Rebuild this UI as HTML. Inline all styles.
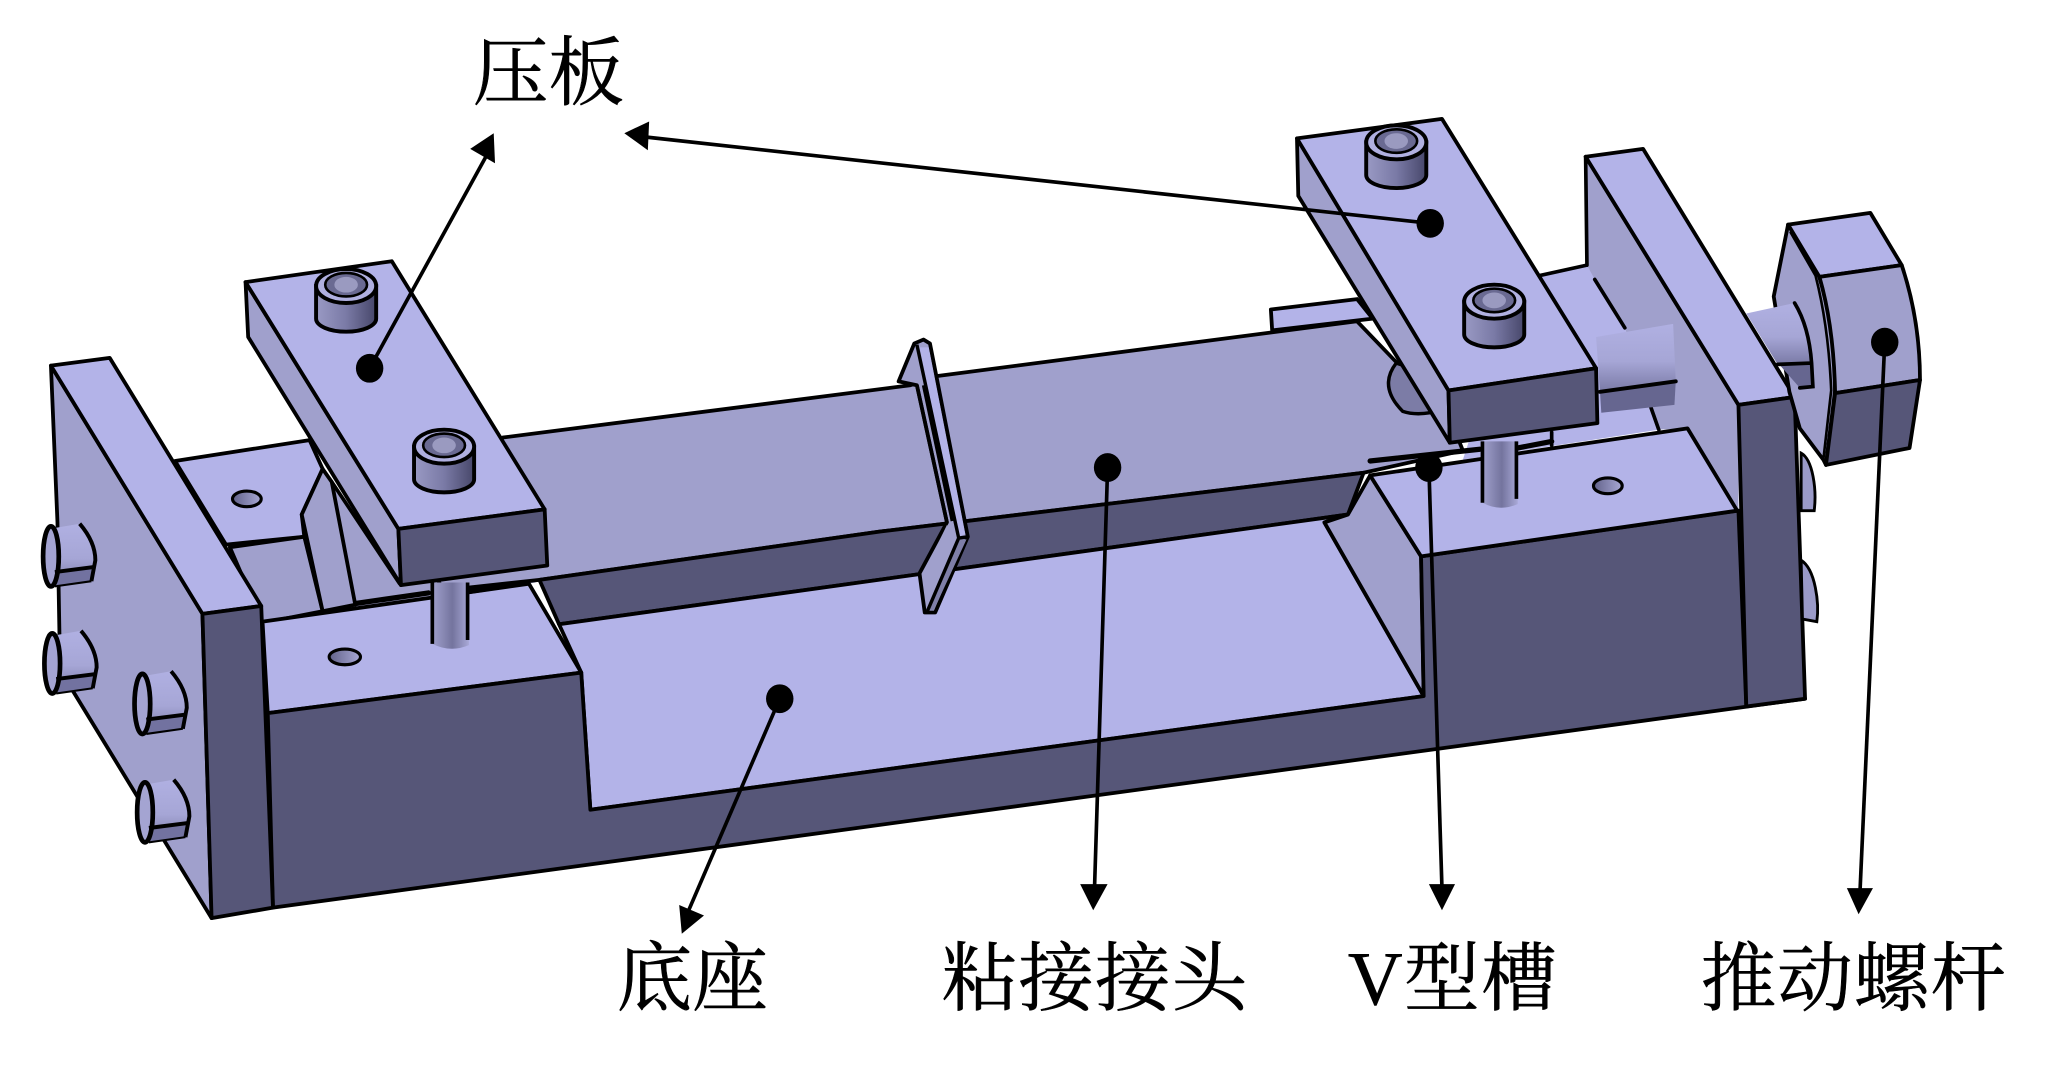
<!DOCTYPE html>
<html><head><meta charset="utf-8"><style>
html,body{margin:0;padding:0;background:#fff;width:2048px;height:1067px;overflow:hidden}
svg{display:block}
.l{fill:#b3b3e8}.m{fill:#a0a0cc}.d{fill:#565678}
.e{stroke:#000;stroke-width:2.9;stroke-linejoin:round;stroke-linecap:round}
.t{stroke:#000;stroke-width:2;fill:none}
.n{fill:none;stroke:#000;stroke-width:2.8;stroke-linecap:round}
.k{fill:none;stroke:#000;stroke-width:4;stroke-linecap:round}
text{font-family:"Liberation Serif","Noto Serif CJK SC",serif;font-size:58px;fill:#000;stroke:#000;stroke-width:.4}
</style></head><body>
<svg width="2048" height="1067" viewBox="0 0 1568 817" preserveAspectRatio="none" xmlns="http://www.w3.org/2000/svg">
<defs>
<linearGradient id="g" x1="0" x2="1" y1="0" y2="0"><stop offset="0" stop-color="#9a9ac4"/><stop offset=".5" stop-color="#7a7aa6"/><stop offset="1" stop-color="#47476a"/></linearGradient>
<linearGradient id="g2" x1="0" x2="0" y1="0" y2="1"><stop offset="0" stop-color="#b0b0e2"/><stop offset=".55" stop-color="#a6a6d6"/><stop offset="1" stop-color="#7a7aa6"/></linearGradient>
<linearGradient id="g3" x1="0" x2="1" y1="0" y2="0"><stop offset="0" stop-color="#a0a0cc"/><stop offset=".55" stop-color="#74749e"/><stop offset="1" stop-color="#a8a8d6"/></linearGradient>
<linearGradient id="h" x1="0" x2="1" y1="0" y2="0"><stop offset="0" stop-color="#62628a"/><stop offset="1" stop-color="#a8a8d4"/></linearGradient>
<g id="screw"><path d="M-23 0V25A23 10 0 0 0 23 25V0Z" fill="url(#g)" stroke="#000" stroke-width="3"/><ellipse cx="0" cy="0" rx="23" ry="13" fill="#b0b0e0" stroke="#000" stroke-width="3"/><ellipse cx="0" cy="-1" rx="16" ry="9" fill="#6a6a92" stroke="#000" stroke-width="2"/><ellipse cx="0" cy="-1" rx="9" ry="6" fill="#9a9ac0"/></g>
<g id="bolt"><path d="M4 0 L27 -4 Q39 10 39 24 L36 40 L8 44 Z" fill="url(#g2)"/><path d="M8 33 L39 29 L36 40 L8 44Z" fill="#7272a0"/><path d="M27 -4 Q39 10 39 24 L36 40" fill="none" stroke="#000" stroke-width="3"/><ellipse cx="5" cy="21" rx="6" ry="23" fill="#a4a4d2" stroke="#000" stroke-width="3.6"/><path d="M8 33 L39 29" stroke="#000" stroke-width="3"/><path d="M8 44 L36 40" stroke="#000" stroke-width="1.6"/></g>
</defs>
<rect width="1568" height="817" fill="#fff"/>

<!-- back right pieces -->
<polygon class="l e" points="973,237 1039,229 1051,244 974,253"/>
<polygon class="l" points="1165,214 1215,203 1244,251 1264,312 1270,329 1120,352"/>
<path class="n" d="M1165,214L1215,203"/>
<!-- right plate side -->
<polygon class="m" points="1214,120 1331,310 1331,395 1292,328 1270,329 1264,312 1244,251 1221,214 1215,203"/>
<path class="n" d="M1214,120L1215,203M1221,214L1244,251M1264,312L1270,329M1214,120L1331,310"/>
<!-- rod behind -->
<path d="M1222,258 L1281,248 L1283,292 L1225,300Z" fill="url(#g2)"/>
<path d="M1225,300 L1283,292 L1282,310 L1226,316Z" fill="#666690"/>
<path class="n" d="M1225,300 L1283,292" style="stroke-width:3"/>

<!-- left back block -->
<polygon class="m" points="233,411 300,430 410,436 410,446 201,477"/>
<polygon class="l e" points="134,353 237,337 247,359 231,394 233,411 173,417"/>
<polygon class="m e" points="176,419 233,411 247,468 201,477"/>
<polygon class="m" points="254,369 306,447 273,463"/>
<polygon class="m e" points="247,359 231,394 247,468 272,463 254,369"/>
<path class="n" d="M254,369 L306,447"/>
<ellipse cx="189" cy="382" rx="11" ry="6" fill="url(#h)" stroke="#000" stroke-width="2.4"/>

<!-- beam -->
<polygon class="m e" points="385,335 697,295 717,288 1039,246 1110,320 1120,345 1044,362 674,407 413,444 340,452 320,420"/>
<path d="M1069,278 Q1055,296 1074,315 Q1083,318 1095,316 L1090,285Z" fill="#7c7ca6" stroke="#000" stroke-width="2.6"/>

<!-- dark underside -->
<polygon class="d e" points="413,444 674,407 1044,362 1032,394 428,478"/>

<!-- floor -->
<polygon class="l e" points="428,478 1032,394 1014,400 1090,533 452,620 445,515"/>
<polygon class="m e" points="1049,364 1088,426 1090,533 1014,400 1032,394"/>

<!-- left plate front big faces -->
<polygon class="m e" points="39,280 155,470 162,703 46,513 44,400"/>
<polygon class="l e" points="39,280 84,274 200,464 155,470"/>

<!-- left pedestal top -->
<polygon class="l e" points="201,476 405,447 445,515 205,546"/>

<!-- base front -->
<polygon class="d e" points="205,546 445,515 452,620 1090,533 1088,426 1331,391 1337,541 1382,535 209,695"/>
<polygon class="d e" points="155,470 200,464 209,695 162,703"/>
<!-- right pedestal top -->
<polygon class="l e" points="1049,364 1292,328 1330,391 1088,426"/>
<!-- right plate -->
<polygon class="l e" points="1214,120 1258,114 1374,304 1331,310"/>
<polygon class="d e" points="1331,310 1374,304 1382,535 1337,541"/>

<!-- thick strips -->
<path class="k" d="M273,462L328,454M358,453L403,446M1049,353L1133,344M1162,343L1188,338"/>
<path class="n" d="M1188,331L1188,341"/>

<!-- right bolts -->
<path d="M1379,347 C1388,352 1391,375 1389,391 L1379,391Z" fill="#9a9ac8" stroke="#000" stroke-width="2.2"/>
<path d="M1379,429 C1390,436 1393,462 1391,476 L1380,474Z" fill="#9a9ac8" stroke="#000" stroke-width="2.2"/>

<!-- left bolts -->
<use href="#bolt" x="34" y="405"/>
<use href="#bolt" x="35" y="487"/>
<use href="#bolt" x="104" y="518"/>
<use href="#bolt" x="106" y="601"/>

<!-- holes -->
<ellipse cx="264" cy="503" rx="12" ry="6" fill="url(#h)" stroke="#000" stroke-width="2.4"/>
<ellipse cx="1231" cy="372" rx="11" ry="6" fill="url(#h)" stroke="#000" stroke-width="2.4"/>

<!-- pins -->
<path d="M331,446 V493 Q345,500 359,494 V446Z" fill="url(#g3)"/>
<path d="M331,446 V493M358,446 V490" stroke="#000" stroke-width="2.8"/>
<path d="M1135,338 V385 Q1148,392 1162,386 V338Z" fill="url(#g3)"/>
<path d="M1135,338 V385M1161,338 V382" stroke="#000" stroke-width="2.8"/>

<!-- tilted fin -->
<polygon class="m e" points="688,292 700,263 707,260 712,263 741,411 716,469 708,469 704,439 725,400 702,295"/>
<polygon class="l" points="704,266 711,266 739,409 734,411"/>
<polygon fill="#7f7fa8" points="734,413 740,413 715,467 711,467"/>
<polygon class="m" points="725,402 733,413 711,466 706,441"/>
<path class="t" d="M702,264L734,412L741,411M734,412L710,468" style="stroke-width:2.6"/>
<path class="t" d="M707,295 L729,399" style="stroke-width:2.4"/>
<path class="t" d="M702,295 L725,400" style="stroke-width:2.8"/>

<!-- left press plate -->
<polygon class="m e" points="188,216 305,405 307,448 190,258"/>
<polygon class="l e" points="188,216 300,200 417,390 305,405"/>
<polygon class="d e" points="305,405 417,390 419,433 307,448"/>
<use href="#screw" x="265" y="219"/>
<use href="#screw" x="340" y="342"/>

<!-- right press plate -->
<polygon class="m e" points="993,106 1109,299 1110,339 994,150"/>
<polygon class="l e" points="993,106 1104,91 1222,282 1109,299"/>
<polygon class="d e" points="1109,299 1222,282 1223,324 1110,339"/>
<use href="#screw" x="1069" y="109"/>
<use href="#screw" x="1144" y="231"/>

<!-- knob side -->
<path class="m e" d="M1369,172 L1392,209 Q1405,250 1405,299 L1398,356 L1396,352 L1378,328 L1370,300 L1358,227 Z"/>
<!-- knob rod -->
<path d="M1337,240 L1374,232 Q1385,250 1387,278 L1361,279Z" fill="url(#g2)"/>
<path d="M1363,280 L1387,278 L1388,296 L1378,297Z" fill="#666690"/>
<path class="n" d="M1374,232 Q1385,250 1387,278 L1388,296 L1378,297M1361,279L1387,278"/>
<!-- knob -->
<polygon class="l e" points="1369,172 1432,163 1456,203 1393,212"/>
<path class="m e" d="M1393,212 L1456,203 Q1470,245 1470,291 L1405,301 Q1404,250 1393,212Z"/>
<path class="d e" d="M1405,301 L1470,291 L1462,343 L1398,356Z"/>
<path class="n" d="M1371,178 L1390,211 Q1400,250 1402,299 L1396,352" style="stroke-width:2"/>

<!-- arrows -->
<g fill="#000">
<line x1="283" y1="282" x2="372" y2="120" stroke="#000" stroke-width="2.8"/>
<polygon points="378,102 379,125 360,114"/>
<ellipse cx="283" cy="282" rx="10.5" ry="11"/>

<line x1="1095" y1="171" x2="495" y2="105" stroke="#000" stroke-width="2.8"/>
<polygon points="478,102 497,93 496,115"/>
<ellipse cx="1095" cy="171" rx="10.5" ry="11"/>

<line x1="848" y1="358" x2="838" y2="680" stroke="#000" stroke-width="2.8"/>
<polygon points="837,697 827,677 848,677"/>
<ellipse cx="848" cy="358" rx="10.5" ry="11"/>

<line x1="1094" y1="358" x2="1104" y2="680" stroke="#000" stroke-width="2.8"/>
<polygon points="1104,697 1094,677 1114,677"/>
<ellipse cx="1094" cy="358" rx="10.5" ry="11"/>

<line x1="1443" y1="262" x2="1424" y2="684" stroke="#000" stroke-width="2.8"/>
<polygon points="1423,700 1414,680 1434,680"/>
<ellipse cx="1443" cy="262" rx="10.5" ry="11"/>

<line x1="597" y1="535" x2="526" y2="700" stroke="#000" stroke-width="2.8"/>
<polygon points="522,715 520,693 539,701"/>
<ellipse cx="597" cy="535" rx="10.5" ry="11"/>
</g>

<!-- labels -->
<text x="362" y="76" textLength="116">压板</text>
<text x="472" y="769" textLength="116">底座</text>
<text x="721" y="769" textLength="234">粘接接头</text>
<text x="1032" y="769" textLength="160">V型槽</text>
<text x="1302" y="769" textLength="234">推动螺杆</text>
</svg>
</body></html>
